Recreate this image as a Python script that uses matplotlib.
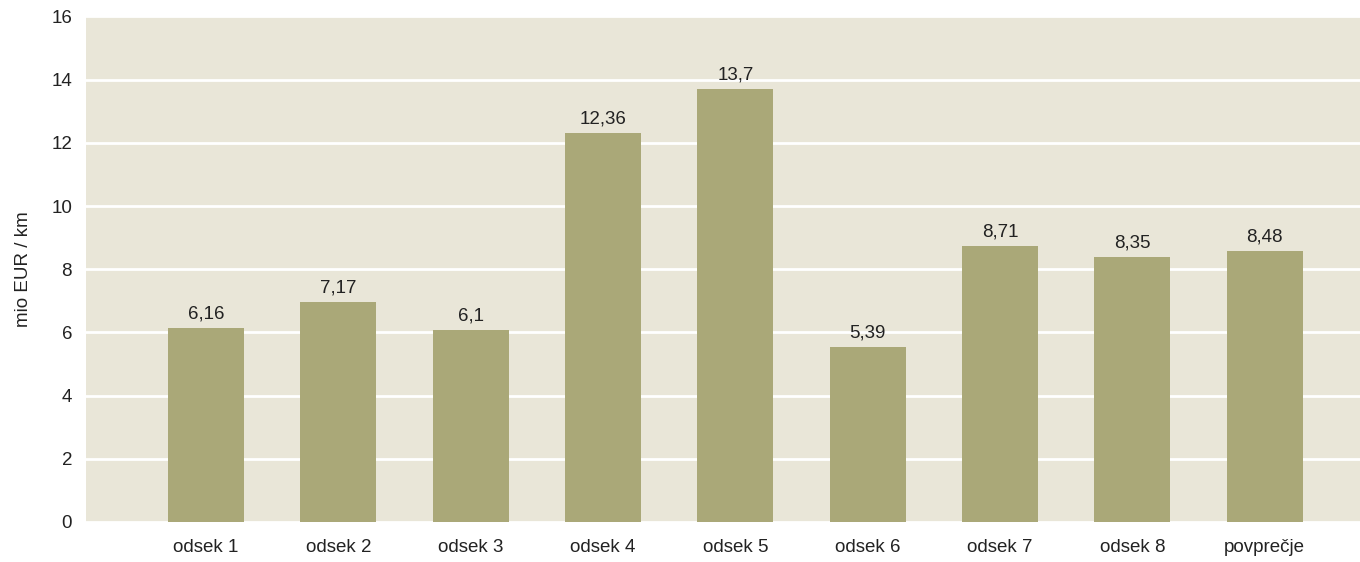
import matplotlib.pyplot as plt
import numpy as np

categories = ['odsek 1', 'odsek 2', 'odsek 3', 'odsek 4', 'odsek 5',
              'odsek 6', 'odsek 7', 'odsek 8', 'povprečje']
# bar heights as drawn in the picture
bar_values = [6.14, 6.96, 6.08, 12.31, 13.70, 5.54, 8.73, 8.39, 8.58]
# value labels as printed above bars
value_labels = ['6,16', '7,17', '6,1', '12,36', '13,7', '5,39', '8,71', '8,35', '8,48']
y_ticks = [0, 2, 4, 6, 8, 10, 12, 14, 16]

plt.rcParams['font.family'] = ['Liberation Sans', 'DejaVu Sans']

fig = plt.figure(figsize=(13.6, 5.62), dpi=100, facecolor='white')
ax = fig.add_axes([0.0632, 0.0712, 0.9368, 0.8996])
ax.set_facecolor('#e9e6d8')

x = np.arange(len(categories))
bars = ax.bar(x, bar_values, width=0.574, color='#aaa878', zorder=3)

for b, lab in zip(bars, value_labels):
    ax.annotate(lab, (b.get_x() + b.get_width() / 2, b.get_height()),
                xytext=(0, 4), textcoords='offset points',
                ha='center', va='bottom', fontsize=13.5, color='#222222')

ax.set_xlim(-0.907, 8.72)
ax.set_ylim(0, 16)
ax.set_yticks(y_ticks)
ax.set_yticklabels([str(t) for t in y_ticks])
ax.set_xticks(x)
ax.set_xticklabels(categories)
ax.yaxis.grid(True, color='white', lw=2, zorder=1)
ax.tick_params(axis='both', length=0, labelsize=13.5, colors='#222222')
ax.tick_params(axis='y', pad=10)
ax.tick_params(axis='x', pad=12)
for s in ax.spines.values():
    s.set_visible(False)
ax.set_ylabel('mio EUR / km', fontsize=13.5, color='#222222', labelpad=14)

fig.savefig('out.png', dpi=100, facecolor='white')
